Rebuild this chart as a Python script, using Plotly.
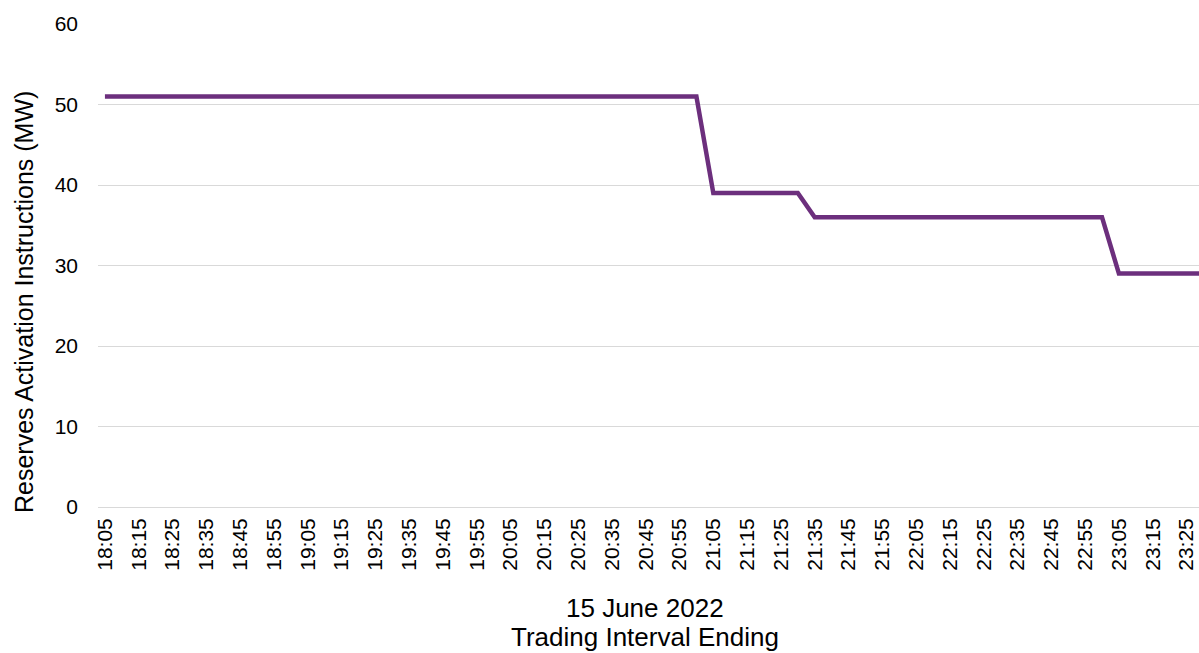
import plotly.graph_objects as go

times = ["18:05", "18:10", "18:15", "18:20", "18:25", "18:30", "18:35", "18:40", "18:45", "18:50",
         "18:55", "19:00", "19:05", "19:10", "19:15", "19:20", "19:25", "19:30", "19:35", "19:40",
         "19:45", "19:50", "19:55", "20:00", "20:05", "20:10", "20:15", "20:20", "20:25", "20:30",
         "20:35", "20:40", "20:45", "20:50", "20:55", "21:00", "21:05", "21:10", "21:15", "21:20",
         "21:25", "21:30", "21:35", "21:40", "21:45", "21:50", "21:55", "22:00", "22:05", "22:10",
         "22:15", "22:20", "22:25", "22:30", "22:35", "22:40", "22:45", "22:50", "22:55", "23:00",
         "23:05", "23:10", "23:15", "23:20", "23:25", "23:30"]

reserves_mw = [51, 51, 51, 51, 51, 51, 51, 51, 51, 51,
               51, 51, 51, 51, 51, 51, 51, 51, 51, 51,
               51, 51, 51, 51, 51, 51, 51, 51, 51, 51,
               51, 51, 51, 51, 51, 51, 39, 39, 39, 39,
               39, 39, 36, 36, 36, 36, 36, 36, 36, 36,
               36, 36, 36, 36, 36, 36, 36, 36, 36, 36,
               29, 29, 29, 29, 29, 29]

tick_labels = ["18:05", "18:15", "18:25", "18:35", "18:45", "18:55", "19:05", "19:15", "19:25",
               "19:35", "19:45", "19:55", "20:05", "20:15", "20:25", "20:35", "20:45", "20:55",
               "21:05", "21:15", "21:25", "21:35", "21:45", "21:55", "22:05", "22:15", "22:25",
               "22:35", "22:45", "22:55", "23:05", "23:15", "23:25"]

y_ticks = [0, 10, 20, 30, 40, 50, 60]

FONT = "Liberation Sans, Arial, sans-serif"

fig = go.Figure()
fig.add_trace(go.Scatter(
    x=times, y=reserves_mw, mode="lines",
    line=dict(color="#6C2F7D", width=4.5),
    hoverinfo="x+y", showlegend=False,
))

fig.update_layout(
    width=1199, height=653,
    margin=dict(l=98, r=0, t=24, b=146),
    paper_bgcolor="white", plot_bgcolor="white",
    font=dict(family=FONT, size=21, color="#000000"),
    xaxis=dict(
        type="category",
        categoryorder="array", categoryarray=times,
        tickmode="array", tickvals=tick_labels, ticktext=tick_labels,
        tickangle=-90,
        range=[-0.41, 64.74],
        showgrid=False, zeroline=False, showline=False,
        ticks="", ticklabelstandoff=6,
        tickfont=dict(family=FONT, size=21, color="#000000"),
    ),
    yaxis=dict(
        range=[0, 60],
        tickmode="array", tickvals=y_ticks,
        showgrid=True, gridcolor="#D9D9D9", gridwidth=1.3,
        zeroline=True, zerolinecolor="#D9D9D9", zerolinewidth=1.3,
        showline=False, ticks="", ticklabelstandoff=19,
        tickfont=dict(family=FONT, size=21, color="#000000"),
    ),
    annotations=[
        dict(text="Reserves Activation Instructions (MW)", textangle=-90,
             xref="paper", yref="paper", x=(24 - 98) / 1101, y=(507 - 302) / 483,
             xanchor="center", yanchor="middle", showarrow=False,
             font=dict(family=FONT, size=25, color="#000000")),
        dict(text="15 June 2022",
             xref="paper", yref="paper", x=(645 - 98) / 1101, y=(507 - 608) / 483,
             xanchor="center", yanchor="middle", showarrow=False,
             font=dict(family=FONT, size=26, color="#000000")),
        dict(text="Trading Interval Ending",
             xref="paper", yref="paper", x=(645 - 98) / 1101, y=(507 - 637) / 483,
             xanchor="center", yanchor="middle", showarrow=False,
             font=dict(family=FONT, size=26, color="#000000")),
    ],
)

fig.write_html("out.html")
